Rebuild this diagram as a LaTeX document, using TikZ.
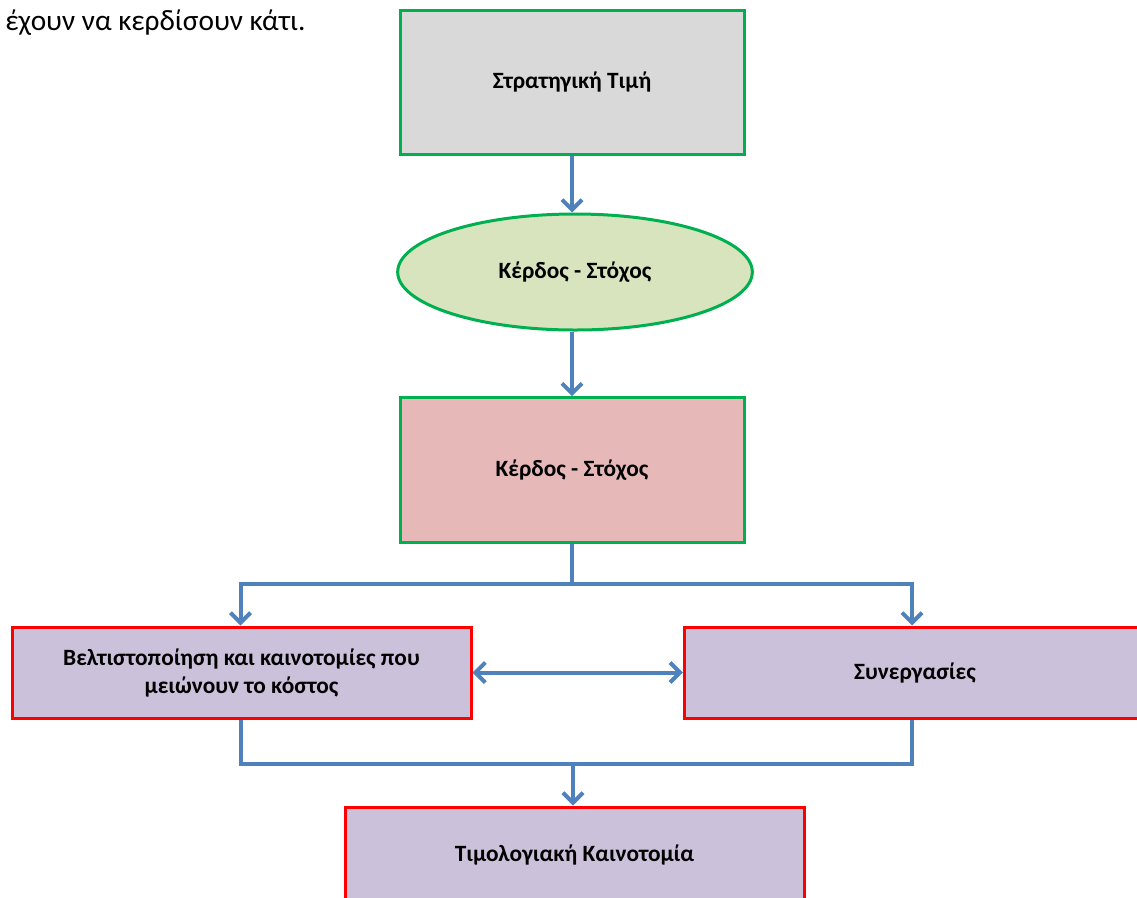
\documentclass[tikz,border=0pt]{standalone}
\usepackage{fontspec}
\setmainfont{Carlito}
\usetikzlibrary{arrows.meta,shapes.geometric}
\definecolor{boxgreen}{HTML}{00B050}
\definecolor{boxred}{HTML}{FF0000}
\definecolor{flowblue}{HTML}{4F81BD}
\definecolor{greyfill}{HTML}{D9D9D9}
\definecolor{olivefill}{HTML}{D7E4BD}
\definecolor{rosefill}{HTML}{E6B9B8}
\definecolor{lilacfill}{HTML}{CCC1DA}
\begin{document}
\begin{tikzpicture}[x=0.75pt,y=-0.75pt,
  boxtext/.style={font=\fontsize{17.5}{21}\selectfont\bfseries, align=center},
  box/.style={draw, line width=2.25pt, rectangle, inner sep=0pt, boxtext},
  greenbox/.style={box, draw=boxgreen, minimum width=258pt, minimum height=108.5pt},
  redbox/.style={box, draw=boxred, fill=lilacfill, minimum width=344.25pt, minimum height=68.25pt},
  flow/.style={draw=flowblue, line width=3pt},
  barb/.tip={Straight Barb[length=7.5pt,width=15pt]},
  tip/.style={flow, -barb},
]
\useasboundingbox (0,0) rectangle (1137,897);
\clip (0,0) rectangle (1137,897);

% lead-in sentence
\node[anchor=base west, inner sep=0pt, font=\fontsize{22}{26}\selectfont] (lead) at (5,30) {έχουν να κερδίσουν κάτι.};

% main chain
\node[greenbox, fill=greyfill] (price) at (572,82.5) {Στρατηγική Τιμή};
\node[ellipse, draw=boxgreen, line width=2.25pt, fill=olivefill, inner sep=0pt,
      minimum width=266pt, minimum height=87pt, boxtext] (target) at (575,272) {Κέρδος - Στόχος};
\node[greenbox, fill=rosefill] (profit) at (572,470) {Κέρδος - Στόχος};

% two branches and the outcome
\node[redbox] (cost) at (241.5,672.5) {Βελτιστοποίηση και καινοτομίες που\\μειώνουν το κόστος};
\node[redbox, minimum width=346pt] (coop) at (915,672.5) {Συνεργασίες};
\node[redbox, minimum height=72pt] (innov) at (574.5,855) {Τιμολογιακή Καινοτομία};

\coordinate (split) at (572,584);
\coordinate (merge) at (573,764);

% connectors
\draw[tip] (price.south) -- (price.south |- target.north);
\draw[tip] (profit.north |- target.south) -- (profit.north);
\draw[flow] (profit.south) -- (split);
\draw[tip] (split) -| ([xshift=-0.75pt]cost.north);
\draw[tip] (split) -| ([xshift=-2.25pt]coop.north);
\draw[flow, barb-barb] (cost.east) -- (coop.west);
\draw[flow] ([xshift=-0.75pt]cost.south) |- (merge) -| ([xshift=-2.25pt]coop.south);
\draw[tip] (merge) -- (merge |- innov.north);
\end{tikzpicture}
\end{document}
